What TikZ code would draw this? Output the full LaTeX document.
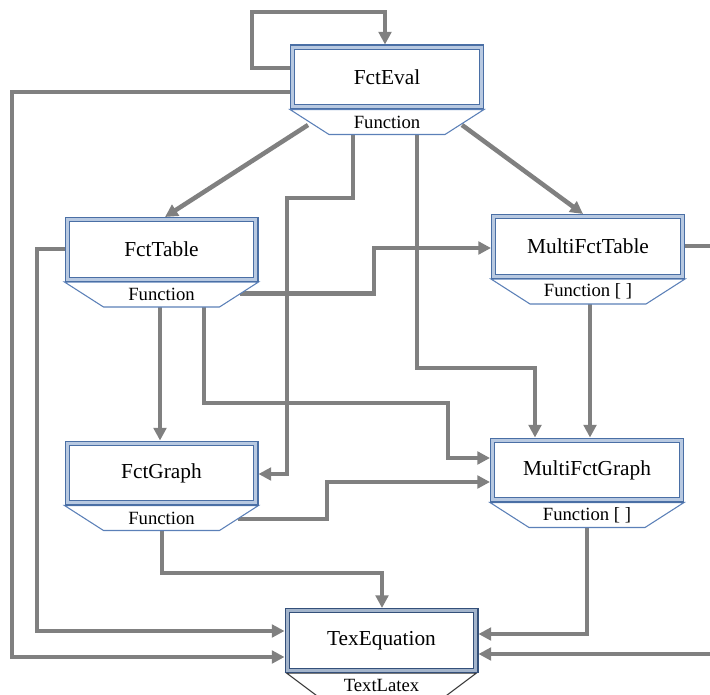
\documentclass[tikz,border=0pt]{standalone}
\usepackage{fontspec}
\setmainfont{Liberation Serif}
\usetikzlibrary{arrows.meta,calc}
\pgfdeclarelayer{bg}
\pgfdeclarelayer{mid}
\pgfsetlayers{bg,mid,main}
\definecolor{conngray}{HTML}{808080}
\definecolor{frameblue}{HTML}{4A6FA5}
\definecolor{bandblue}{HTML}{B8C9E1}
\definecolor{trapblue}{HTML}{5B80B8}
\definecolor{framedark}{HTML}{34507A}
\definecolor{banddark}{HTML}{A3B4CB}
\newcommand\umlbox[6]{%
  \node[cls,#6] (#1) at (#2,#3) {#4};
  \begin{pgfonlayer}{mid}
    \draw[trap,#6] ([shift={(-97,32.5)}]#1.center) -- ++(39,25) -- ++(116,0) -- ++(39,-25) -- cycle;
  \end{pgfonlayer}
  \node[lab] (#1-lab) at ([shift={(0,45)}]#1.center) {#5};
}
\begin{document}
\begin{tikzpicture}[x=0.75pt,y=-0.75pt,
  conn/.style={draw=conngray, line width=3.4pt, line join=miter, -{Triangle[length=9.5pt,width=9.5pt]}},
  connfree/.style={draw=conngray, line width=3.4pt, line join=miter},
  cls/.style={draw=frameblue, double=bandblue, double distance=2.4pt, line width=0.8pt,
    fill=white, minimum width=141.5pt, minimum height=44.75pt, outer sep=2pt, inner sep=0pt,
    font=\fontsize{16}{19}\selectfont},
  trap/.style={draw=trapblue, fill=white, line width=0.8pt},
  lab/.style={inner sep=0pt, font=\fontsize{14}{17}\selectfont},
  darkbox/.style={draw=framedark, double=banddark},
]
\useasboundingbox (0,0) rectangle (710,695);
\begin{pgfonlayer}{bg}
  \fill[white] (0,0) rectangle (710,695);
\end{pgfonlayer}

\umlbox{eval}{387}{77}{FctEval}{Function}{}
\umlbox{table}{161.5}{249.5}{FctTable}{Function}{}
\umlbox{mtable}{588}{246.5}{MultiFctTable}{Function [ ]}{}
\umlbox{graph}{161.5}{473}{FctGraph}{Function}{}
\umlbox{mgraph}{587}{470}{MultiFctGraph}{Function [ ]}{}
\node[cls,darkbox] (texeq) at (381.5,640.5) {TexEquation};
\begin{pgfonlayer}{mid}
  \draw[fill=white, draw=black!80, line width=0.8pt] ([shift={(-95,32.5)}]texeq.center) -- ++(36,27) -- ++(118,0) -- ++(36,-27) -- cycle;
\end{pgfonlayer}
\node[lab] (texeq-lab) at ([shift={(0,45)}]texeq.center) {TextLatex};

\coordinate (rt1) at (714,246);
\coordinate (rt2) at (714,654);

\begin{pgfonlayer}{bg}
  % FctEval self loop
  \draw[conn] (eval.west |- 0,68) -- (252,68) -- (252,12) -- (385,12) -- (eval.north -| 385,0);
  % FctEval -> TexEquation
  \draw[conn] (eval.west |- 0,92) -- (12,92) -- (12,657) -- (texeq.west |- 0,657);
  % FctEval -> FctTable
  \draw[conn] ([shift={(-79,48)}]eval.center) -- (table.north -| 165,0);
  % FctEval -> FctGraph
  \draw[conn] ([shift={(-34,56)}]eval.center) -- (353,198) -- (287,198) -- (287,474) -- (graph.east |- 0,474);
  % FctEval -> MultiFctGraph
  \draw[conn] ([shift={(30,56)}]eval.center) -- (417,368) -- (535,368) -- (mgraph.north -| 535,0);
  % FctEval -> MultiFctTable
  \draw[conn] ([shift={(75,48)}]eval.center) -- (mtable.north -| 583,0);
  % FctTable -> TexEquation
  \draw[conn] (table.west |- 0,249) -- (37,249) -- (37,631) -- (texeq.west |- 0,631);
  % FctTable -> MultiFctTable
  \draw[conn] ([shift={(78,44)}]table.center) -- (374,293.5) -- (374,248) -- (mtable.west |- 0,248);
  % FctTable -> FctGraph
  \draw[conn] ([shift={(-1.5,56)}]table.center) -- (graph.north -| 160,0);
  % FctTable -> MultiFctGraph
  \draw[conn] ([shift={(42.5,56)}]table.center) -- (204,403) -- (448,403) -- (448,458) -- (mgraph.west |- 0,458);
  % MultiFctTable -> off right
  \draw[connfree] (mtable.east |- 0,246) -- (rt1);
  % MultiFctTable -> MultiFctGraph
  \draw[conn] ([shift={(2,56)}]mtable.center) -- (mgraph.north -| 590,0);
  % FctGraph -> MultiFctGraph
  \draw[conn] ([shift={(76,46)}]graph.center) -- (327,519) -- (327,482) -- (mgraph.west |- 0,482);
  % FctGraph -> TexEquation
  \draw[conn] ([shift={(0.5,56)}]graph.center) -- (162,573) -- (382,573) -- (texeq.north -| 382,0);
  % MultiFctGraph -> TexEquation
  \draw[conn] ([shift={(0,56)}]mgraph.center) -- (587,634) -- (texeq.east |- 0,634);
  % from right -> TexEquation
  \draw[conn] (rt2) -- (texeq.east |- 0,654);
\end{pgfonlayer}
\end{tikzpicture}
\end{document}
